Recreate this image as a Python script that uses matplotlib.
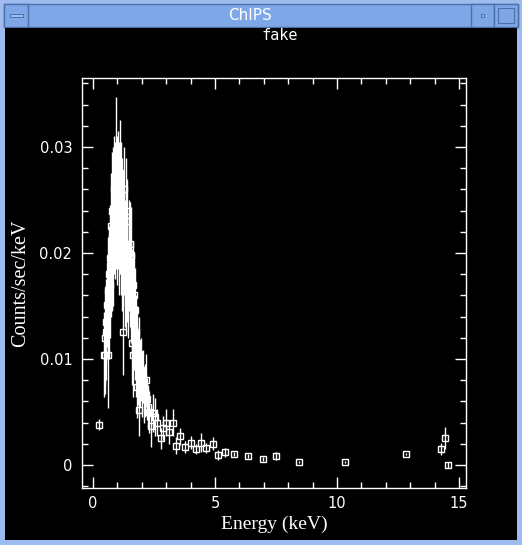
import matplotlib
matplotlib.use("Agg")
import matplotlib.pyplot as plt
from matplotlib.patches import Rectangle
from matplotlib.ticker import MultipleLocator
import numpy as np

# spectrum points: energy (keV), rate, error
energy = [0.25, 0.45, 0.48, 0.50, 0.53, 0.55, 0.57, 0.60, 0.62, 0.64,
          0.66, 0.68, 0.70, 0.72, 0.74, 0.76, 0.78, 0.80, 0.82, 0.84,
          0.86, 0.88, 0.90, 0.92, 0.94, 0.96, 0.98, 1.00, 1.02, 1.04,
          1.06, 1.08, 1.10, 1.12, 1.14, 1.16, 1.18, 1.20, 1.23, 1.25,
          1.27, 1.29, 1.31, 1.33, 1.35, 1.37, 1.39, 1.41, 1.44, 1.46,
          1.48, 1.50, 1.52, 1.54, 1.56, 1.58, 1.60, 1.62, 1.64, 1.66,
          1.68, 1.70, 1.72, 1.74, 1.76, 1.78, 1.80, 1.82, 1.84, 1.87,
          1.89, 1.92, 1.95, 2.00, 2.05, 2.10, 2.13, 2.17, 2.21, 2.26,
          2.30, 2.38, 2.46, 2.54, 2.62, 2.79, 2.87, 3.00, 3.11, 3.28,
          3.40, 3.57, 3.77, 4.02, 4.22, 4.43, 4.63, 4.92, 5.13, 5.41,
          5.78, 6.35, 6.97, 7.50, 8.44, 10.33, 12.83, 14.26, 14.43, 14.55]
rate = [0.0038, 0.0104, 0.0120, 0.0104, 0.0135, 0.0125, 0.0151, 0.0104, 0.0165, 0.0180,
        0.0150, 0.0170, 0.0195, 0.0190, 0.0225, 0.0215, 0.0200, 0.0240, 0.0240, 0.0205,
        0.0260, 0.0235, 0.0230, 0.0250, 0.0281, 0.0245, 0.0255, 0.0230, 0.0265, 0.0240,
        0.0220, 0.0250, 0.0275, 0.0235, 0.0215, 0.0255, 0.0240, 0.0200, 0.0125, 0.0220,
        0.0260, 0.0210, 0.0200, 0.0180, 0.0175, 0.0240, 0.0230, 0.0185, 0.0165, 0.0200,
        0.0190, 0.0175, 0.0208, 0.0160, 0.0198, 0.0150, 0.0115, 0.0170, 0.0104, 0.0140,
        0.0130, 0.0160, 0.0146, 0.0120, 0.0099, 0.0125, 0.0074, 0.0115, 0.0092, 0.0105,
        0.0052, 0.0085, 0.0090, 0.0075, 0.0083, 0.0065, 0.0070, 0.0080, 0.0062, 0.0055,
        0.0050, 0.0037, 0.0049, 0.0045, 0.0040, 0.0025, 0.0035, 0.0040, 0.0031, 0.0040,
        0.0018, 0.0027, 0.0017, 0.0021, 0.0015, 0.0021, 0.0016, 0.0020, 0.00094, 0.0012,
        0.00104, 0.00085, 0.00057, 0.00085, 0.0003, 0.0003, 0.00104, 0.0015, 0.00255, 0.0]
rate_err = [0.0005, 0.0040, 0.0045, 0.0037, 0.0040, 0.0045, 0.0040, 0.0050, 0.0050, 0.0045,
            0.0050, 0.0050, 0.0050, 0.0050, 0.0050, 0.0050, 0.0055, 0.0055, 0.0060, 0.0055,
            0.0050, 0.0055, 0.0055, 0.0055, 0.0066, 0.0060, 0.0055, 0.0060, 0.0050, 0.0055,
            0.0060, 0.0055, 0.0050, 0.0055, 0.0055, 0.0050, 0.0050, 0.0055, 0.0040, 0.0055,
            0.0040, 0.0050, 0.0050, 0.0050, 0.0050, 0.0050, 0.0040, 0.0050, 0.0045, 0.0050,
            0.0045, 0.0045, 0.0040, 0.0045, 0.0045, 0.0045, 0.0040, 0.0040, 0.0040, 0.0040,
            0.0040, 0.0040, 0.0040, 0.0040, 0.0035, 0.0035, 0.0030, 0.0035, 0.0035, 0.0035,
            0.0025, 0.0030, 0.0030, 0.0030, 0.0025, 0.0025, 0.0025, 0.0025, 0.0020, 0.0020,
            0.0020, 0.0020, 0.0018, 0.0018, 0.0013, 0.0010, 0.0011, 0.0013, 0.0011, 0.0013,
            0.0008, 0.0008, 0.0006, 0.0006, 0.0005, 0.0009, 0.0005, 0.0006, 0.0005, 0.0004,
            0.0002, 0.0002, 0.0002, 0.0004, 0.0001, 0.0001, 0.0001, 0.0006, 0.0010, 0.0003]

W, H = 522, 545
fig = plt.figure(figsize=(W / 100, H / 100), dpi=100, facecolor='#9dbbee')


def box(x, y, w, h, fc, ec='none', lw=0):
    # pixel box, top-left origin
    r = Rectangle((x / W, 1 - (y + h) / H), w / W, h / H, transform=fig.transFigure,
                  facecolor=fc, edgecolor=ec, linewidth=lw, zorder=-5)
    fig.add_artist(r)


# window chrome
box(4, 4, 514, 23, '#7ea7e8', '#4f6fa8', 1)
box(4, 4, 24, 23, '#7ea7e8', '#4f6fa8', 1)
box(471, 4, 23, 23, '#7ea7e8', '#4f6fa8', 1)
box(494, 4, 24, 23, '#7ea7e8', '#4f6fa8', 1)
box(10, 14, 13, 3, '#9dbbee', '#4f6fa8', 0.7)
box(481, 14, 3, 3, '#9dbbee', '#4f6fa8', 0.7)
box(498, 8, 16, 15, '#7ea7e8', '#4f6fa8', 0.8)
box(5, 28, 512, 512, 'black')
fig.text(250 / W, 1 - 16 / H, 'ChIPS', color='white', fontsize=11,
         ha='center', va='center', family='DejaVu Sans')

ax = fig.add_axes([82 / W, 1 - 488 / H, 384 / W, 410 / H])
ax.set_facecolor('black')
ax.errorbar(energy, rate, yerr=rate_err, fmt='s', mfc='none', mec='white',
            mew=1, ms=5, ecolor='white', elinewidth=1.0, capsize=0)

ax.set_xlim(-0.45, 15.29)
ax.set_ylim(-0.00217, 0.0365)
ax.xaxis.set_major_locator(MultipleLocator(5))
ax.xaxis.set_minor_locator(MultipleLocator(1))
ax.yaxis.set_major_locator(MultipleLocator(0.01))
ax.yaxis.set_minor_locator(MultipleLocator(0.002))
ax.yaxis.set_major_formatter(plt.FuncFormatter(lambda v, p: '0' if abs(v) < 1e-9 else '%g' % v))

for s in ax.spines.values():
    s.set_color('white')
    s.set_linewidth(1)
ax.tick_params(which='both', direction='in', colors='white', top=True, right=True,
               labelsize=10.5)
ax.tick_params(which='major', length=8, width=1)
ax.tick_params(which='minor', length=4, width=1)
ax.tick_params(axis='y', pad=7)
ax.tick_params(axis='x', pad=6)

ax.set_xlabel('Energy (keV)', color='white', fontsize=14, family='Liberation Serif', labelpad=3)
ax.set_ylabel('Counts/sec/keV', color='white', fontsize=14.5, family='Liberation Serif', labelpad=7)
fig.text(280 / W, 1 - 36 / H, 'fake', color='white', fontsize=11,
         ha='center', va='center', family='DejaVu Sans Mono')

fig.savefig('out.png', dpi=100, facecolor=fig.get_facecolor())
